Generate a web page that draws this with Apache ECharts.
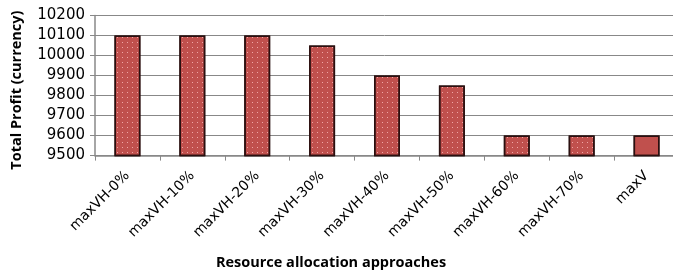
<!DOCTYPE html>
<html><head><meta charset="utf-8">
<script src="https://cdn.jsdelivr.net/npm/echarts@6/dist/echarts.min.js"></script>
<style>html,body{margin:0;padding:0;background:#fff}#c{width:673px;height:272px}</style>
</head><body><div id="c"></div>
<script>
const categories = ["maxVH-0%","maxVH-10%","maxVH-20%","maxVH-30%","maxVH-40%","maxVH-50%","maxVH-60%","maxVH-70%","maxV"];
const profits = [10100,10100,10100,10050,9900,9850,9600,9600,9600];
const dotted = [true,true,true,true,true,true,true,true,false];
const yTicks = {min:9500,max:10200,interval:100};
const xTitle = "Resource allocation approaches";
const yTitle = "Total Profit (currency)";

const font = "'Open Sans', 'Liberation Sans', sans-serif";
const labelFont = "'DejaVu Sans', sans-serif";
const decal = {symbol:'rect', symbolSize:0.2, color:'rgba(245,175,175,0.9)', dashArrayX:[5,0], dashArrayY:[5,0], rotation:0};
const chart = echarts.init(document.getElementById('c'), null, {renderer:'canvas'});
chart.setOption({
  animation:false,
  grid:{left:95, right:-6, top:15.6, bottom:116.4, containLabel:false, outerBoundsMode:'none'},
  xAxis:{type:'category', data:categories,
    axisLine:{lineStyle:{color:'#888', width:1.5}},
    axisTick:{show:true, alignWithLabel:false, length:5, lineStyle:{color:'#888'}},
    axisLabel:{rotate:45, color:'#000', fontSize:14, fontFamily:labelFont, margin:18},
    name:xTitle, nameLocation:'middle', nameGap:100,
    nameTextStyle:{fontWeight:'bold', fontSize:14.5, color:'#000', fontFamily:font, padding:[0,0,0,-112]}
  },
  yAxis:{type:'value', min:yTicks.min, max:yTicks.max, interval:yTicks.interval,
    axisLine:{show:true, lineStyle:{color:'#888', width:1.5}},
    axisTick:{show:true, length:5, lineStyle:{color:'#888'}},
    splitLine:{lineStyle:{color:'#888', width:1}},
    axisLabel:{color:'#000', fontSize:15, fontFamily:labelFont, margin:10, formatter:v=>String(v)},
    name:yTitle, nameLocation:'middle', nameGap:71, nameRotate:90,
    nameTextStyle:{fontWeight:'bold', fontSize:14.5, color:'#000', fontFamily:font, padding:[0,0,0,-9]}
  },
  series:[{type:'bar', barWidth:'40%',
    data: profits.map((v,i)=>({value:v, itemStyle:{decal: dotted[i]?decal:{symbol:'none'}}})),
    itemStyle:{color:'#C0504D', borderColor:'#2b1010', borderWidth:1.5}
  }]
});
</script></body></html>
